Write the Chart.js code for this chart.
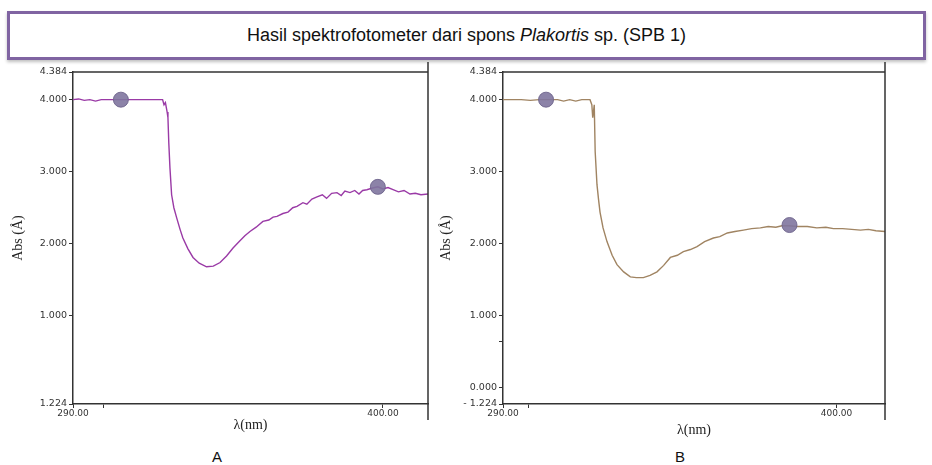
<!DOCTYPE html>
<html>
<head>
<meta charset="utf-8">
<script src="https://cdn.jsdelivr.net/npm/chart.js@4"></script>
<style>
    body { margin: 0; width: 932px; height: 465px; background: #fff; position: relative; overflow: hidden; font-family: "Liberation Sans", Arial, sans-serif; }
    #titleBox { position: absolute; left: 7px; top: 11px; width: 913px; height: 43px; border: 3px solid #8064a2; box-shadow: 0 2px 3px rgba(0,0,0,0.25); display: flex; align-items: center; justify-content: center; font-size: 18px; color: #111; }
    .wrap { position: absolute; }
    .panel-label { position: absolute; top: 448px; font-size: 15px; color: #111; }
</style>
</head>
<body>
<div id="titleBox"><span>Hasil spektrofotometer dari spons <i>Plakortis</i> sp. (SPB 1)</span></div>
<div class="wrap" style="left:0px; top:60px; width:440px; height:380px;"><canvas id="chartA"></canvas></div>
<div class="wrap" style="left:438px; top:60px; width:459px; height:380px;"><canvas id="chartB"></canvas></div>
<div class="panel-label" style="left:212px;">A</div>
<div class="panel-label" style="left:675px;">B</div>

<script>
// Spectrum A (purple trace)
const nmA = [290, 292, 294, 296, 298, 300, 303, 306, 309, 312, 315, 318, 321, 321.8, 322.3, 322.8, 323.4, 323.7, 324.0, 324.4,
    325.0, 325.8, 326.8, 328.0, 329.0, 330.8, 332.6, 334.8, 337.4, 339.8, 342.2, 344.5, 346.8, 349.0, 351.0, 352.8, 355.0, 357.4,
    359.5, 361.0, 362.4, 364.5, 366.3, 368.0, 369.5, 371.6, 373.0, 374.8, 376.6, 378.5, 380.0, 381.8, 383.7, 385.2, 386.5, 388.3,
    390.0, 391.5, 392.8, 394.3, 396.0, 398.2, 400.0, 401.8, 403.6, 405.5, 407.5, 409.6, 411.5, 413.5, 416.0];
const absA = [4.00, 4.01, 3.99, 4.00, 3.98, 4.00, 4.00, 4.00, 4.00, 4.00, 4.00, 4.00, 4.00, 4.00, 3.93, 3.96, 3.83, 3.75, 3.40, 3.06,
    2.68, 2.50, 2.36, 2.20, 2.08, 1.93, 1.81, 1.73, 1.68, 1.69, 1.74, 1.83, 1.94, 2.03, 2.11, 2.17, 2.23, 2.31,
    2.33, 2.37, 2.38, 2.42, 2.44, 2.50, 2.52, 2.57, 2.55, 2.62, 2.65, 2.68, 2.63, 2.70, 2.71, 2.67, 2.73, 2.71,
    2.74, 2.69, 2.74, 2.75, 2.77, 2.79, 2.76, 2.78, 2.75, 2.72, 2.74, 2.69, 2.70, 2.68, 2.69];
const markerNmA = [307, 398.2];
const markerAbsA = [4.00, 2.79];

// Spectrum B (brown trace)
const nmB = [290, 293, 296, 299, 302, 305, 308, 310, 312, 314, 316, 318.7, 319.3, 319.6, 320.1, 320.4, 321.0, 321.5, 322.0, 323.0,
    324.3, 326.0, 327.6, 329.8, 332.0, 334.0, 336.3, 338.5, 340.8, 343.0, 345.2, 347.5, 349.5, 351.8, 354.0, 356.5, 359.4, 361.5,
    364.0, 366.5, 369.3, 372.0, 374.9, 377.5, 380.0, 382.0, 384.2, 387.0, 390.4, 393.5, 396.5, 399.0, 402.0, 405.0, 407.9, 410.5,
    413.0, 416.0];
const absB = [4.00, 4.00, 4.00, 3.99, 4.00, 4.00, 4.00, 3.98, 4.00, 3.98, 4.00, 4.00, 3.93, 3.75, 3.93, 3.28, 2.82, 2.62, 2.44, 2.22,
    2.03, 1.84, 1.71, 1.61, 1.54, 1.53, 1.53, 1.56, 1.61, 1.70, 1.81, 1.84, 1.89, 1.92, 1.96, 2.03, 2.08, 2.10,
    2.15, 2.17, 2.19, 2.21, 2.22, 2.24, 2.23, 2.25, 2.25, 2.24, 2.24, 2.22, 2.23, 2.21, 2.21, 2.20, 2.19, 2.20,
    2.18, 2.17];
const markerNmB = [304.2, 384.5];
const markerAbsB = [4.00, 2.26];

// Axis ticks and their printed labels
const yTicksA = [-0.224, 1, 2, 3, 4, 4.384];
const yLabelsA = ['1.224', '1.000', '2.000', '3.000', '4.000', '4.384'];
const yTicksB = [-0.224, 0, 0.65, 1, 2, 3, 4, 4.384];
const yLabelsB = ['- 1.224', '0.000', '', '1.000', '2.000', '3.000', '4.000', '4.384'];
const xTicksA = [290, 301, 400];
const xLabelsA = ['290.00', '', '400.00'];
const xTicksB = [290, 298.3, 400];
const xLabelsB = ['290.00', '', '400.00'];

const axisColor = '#333';

// Draw the top frame line and the long right-hand vertical line
const framePlugin = {
    id: 'frame',
    afterDraw(chart) {
        const { ctx, chartArea } = chart;
        ctx.save();
        ctx.strokeStyle = axisColor;
        ctx.lineWidth = 1.5;
        ctx.beginPath();
        ctx.moveTo(chartArea.left, chartArea.top);
        ctx.lineTo(chartArea.right, chartArea.top);
        ctx.moveTo(chartArea.right, chartArea.top - 10);
        ctx.lineTo(chartArea.right, chartArea.bottom + 16);
        ctx.stroke();
        ctx.restore();
    }
};

function makeChart(id, nm, abs, mNm, mAbs, lineColor, yTicks, yLabels, xTicks, xLabels, yWidth, xTitlePad, yTitlePad) {
    const ctx = document.getElementById(id).getContext('2d');
    return new Chart(ctx, {
        type: 'line',
        data: {
            datasets: [{
                data: mNm.map((v, i) => ({ x: v, y: mAbs[i] })),
                showLine: false,
                pointRadius: 7.5,
                pointBackgroundColor: 'rgba(128,118,158,0.9)',
                pointBorderColor: 'rgba(110,100,140,0.9)',
                pointBorderWidth: 1
            }, {
                data: nm.map((v, i) => ({ x: v, y: abs[i] })),
                borderColor: lineColor,
                borderWidth: 1.4,
                pointRadius: 0,
                tension: 0
            }]
        },
        options: {
            responsive: true,
            maintainAspectRatio: false,
            animation: false,
            layout: { padding: { top: 12, right: 12, left: 0, bottom: 0 } },
            plugins: { legend: { display: false }, tooltip: { enabled: false } },
            scales: {
                x: {
                    type: 'linear',
                    min: 290,
                    max: 416,
                    afterBuildTicks: scale => { scale.ticks = xTicks.map(v => ({ value: v })); },
                    afterFit: scale => { scale.height = 36; },
                    grid: { drawOnChartArea: false, drawTicks: true, tickLength: 4, color: axisColor },
                    border: { display: true, color: axisColor, width: 1.5 },
                    ticks: {
                        autoSkip: false,
                        maxRotation: 0,
                        padding: 0,
                        color: '#333',
                        font: { family: 'DejaVu Sans', size: 9 },
                        callback: (v, i) => xLabels[i]
                    },
                    title: {
                        display: true,
                        text: 'λ(nm)',
                        color: '#222',
                        font: { family: 'Liberation Serif', size: 14 },
                        padding: { top: 0, bottom: xTitlePad }
                    }
                },
                y: {
                    min: -0.224,
                    max: 4.384,
                    afterBuildTicks: scale => { scale.ticks = yTicks.map(v => ({ value: v })); },
                    afterFit: scale => { scale.width = yWidth; },
                    grid: { drawOnChartArea: false, drawTicks: true, tickLength: 4, color: axisColor },
                    border: { display: true, color: axisColor, width: 1.5 },
                    ticks: {
                        autoSkip: false,
                        padding: 2,
                        color: '#333',
                        font: { family: 'DejaVu Sans', size: 9.5 },
                        callback: (v, i) => yLabels[i]
                    },
                    title: {
                        display: true,
                        text: 'Abs (Å)',
                        color: '#222',
                        font: { family: 'Liberation Serif', size: 14 },
                        padding: { top: yTitlePad, bottom: 0 }
                    }
                }
            }
        },
        plugins: [framePlugin]
    });
}

document.addEventListener('DOMContentLoaded', () => {
    makeChart('chartA', nmA, absA, markerNmA, markerAbsA, '#9a3aa6', yTicksA, yLabelsA, xTicksA, xLabelsA, 73, 6, 10);
    makeChart('chartB', nmB, absB, markerNmB, markerAbsB, '#a08462', yTicksB, yLabelsB, xTicksB, xLabelsB, 65, 1, 0);
});
</script>
</body>
</html>
